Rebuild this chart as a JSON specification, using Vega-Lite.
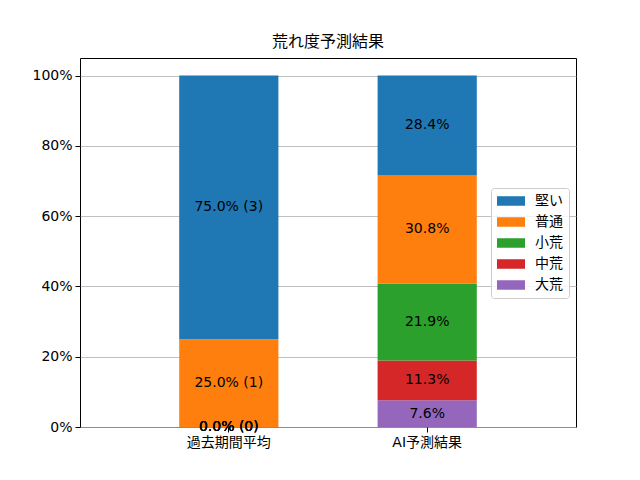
{
  "$schema": "https://vega.github.io/schema/vega-lite/v6.json",
  "autosize": "none",
  "padding": {"left": 80, "top": 58, "right": 64, "bottom": 53},
  "width": 496,
  "height": 369,
  "title": {"text": "荒れ度予測結果", "fontSize": 16, "fontWeight": "normal", "font": "DejaVu Sans, Noto Sans CJK JP", "color": "#000000", "offset": 8},
  "data": {
    "values": [
      {"cat": "過去期間平均", "kind": "大荒", "ord": 0, "value": 0.0, "label": "0.0% (0)"},
      {"cat": "過去期間平均", "kind": "中荒", "ord": 1, "value": 0.0, "label": "0.0% (0)"},
      {"cat": "過去期間平均", "kind": "小荒", "ord": 2, "value": 0.0, "label": "0.0% (0)"},
      {"cat": "過去期間平均", "kind": "普通", "ord": 3, "value": 0.25, "label": "25.0% (1)"},
      {"cat": "過去期間平均", "kind": "堅い", "ord": 4, "value": 0.75, "label": "75.0% (3)"},
      {"cat": "AI予測結果", "kind": "大荒", "ord": 0, "value": 0.076, "label": "7.6%"},
      {"cat": "AI予測結果", "kind": "中荒", "ord": 1, "value": 0.113, "label": "11.3%"},
      {"cat": "AI予測結果", "kind": "小荒", "ord": 2, "value": 0.219, "label": "21.9%"},
      {"cat": "AI予測結果", "kind": "普通", "ord": 3, "value": 0.308, "label": "30.8%"},
      {"cat": "AI予測結果", "kind": "堅い", "ord": 4, "value": 0.284, "label": "28.4%"}
    ]
  },
  "transform": [
    {"stack": "value", "groupby": ["cat"], "sort": [{"field": "ord", "order": "ascending"}], "as": ["v0", "v1"]},
    {"calculate": "(datum.v0 + datum.v1) / 2", "as": "mid"}
  ],
  "encoding": {
    "x": {
      "field": "cat", "type": "nominal", "sort": ["過去期間平均", "AI予測結果"], "title": null,
      "scale": {"paddingInner": 0.5, "paddingOuter": 0.5},
      "axis": {"labelAngle": 0, "domain": false, "ticks": true, "tickSize": 5, "tickColor": "#000000", "labelPadding": 3}
    }
  },
  "layer": [
    {
      "mark": {"type": "bar"},
      "encoding": {
        "y": {
          "field": "v0", "type": "quantitative", "title": null,
          "scale": {"domain": [0, 1.05], "nice": false},
          "axis": {"format": ".0%", "values": [0, 0.2, 0.4, 0.6, 0.8, 1.0], "grid": true, "gridColor": "#b0b0b0", "gridWidth": 0.8, "domain": false, "tickSize": 5, "tickColor": "#000000", "labelPadding": 3}
        },
        "y2": {"field": "v1"},
        "color": {
          "field": "kind", "type": "nominal",
          "scale": {"domain": ["堅い", "普通", "小荒", "中荒", "大荒"], "range": ["#1f77b4", "#ff7f0e", "#2ca02c", "#d62728", "#9467bd"]},
          "legend": {
            "title": null, "orient": "none", "legendX": 411, "legendY": 130,
            "symbolType": "M-2,-0.68H2V0.68H-2Z", "symbolSize": 196, "symbolStrokeWidth": 0,
            "symbolOffset": 7, "labelOffset": 17,
            "fillColor": "rgba(255,255,255,0.8)", "strokeColor": "#cccccc", "cornerRadius": 3,
            "padding": 6, "rowPadding": 7, "labelFontSize": 14
          }
        }
      }
    },
    {
      "mark": {"type": "text", "fontSize": 14, "color": "#000000", "baseline": "middle"},
      "encoding": {
        "y": {"field": "mid", "type": "quantitative"},
        "text": {"field": "label"}
      }
    }
  ],
  "config": {
    "font": "DejaVu Sans, Noto Sans CJK JP",
    "view": {"stroke": "#000000", "strokeWidth": 1},
    "axis": {"labelFont": "DejaVu Sans, Noto Sans CJK JP", "labelFontSize": 14, "labelColor": "#000000"},
    "legend": {"labelFont": "DejaVu Sans, Noto Sans CJK JP", "labelColor": "#000000"},
    "text": {"font": "DejaVu Sans, Noto Sans CJK JP"}
  }
}
